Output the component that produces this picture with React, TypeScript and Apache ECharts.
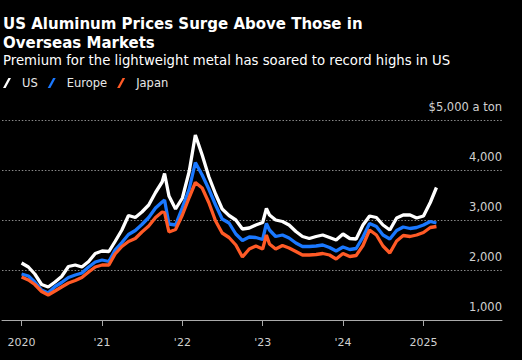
import React, { useEffect, useRef } from "react";
import * as echarts from "echarts";

const dates = [
  "2020-01-01","2020-02-01","2020-03-01","2020-04-01","2020-05-01","2020-06-01","2020-07-01","2020-08-01","2020-09-01","2020-10-01","2020-11-01","2020-12-01",
  "2021-01-01","2021-02-01","2021-03-01","2021-04-01","2021-05-01","2021-06-01","2021-07-01","2021-08-01","2021-09-01","2021-10-01","2021-10-12","2021-11-01","2021-12-01",
  "2022-01-01","2022-02-01","2022-03-01","2022-04-01","2022-05-01","2022-06-01","2022-07-01","2022-08-01","2022-09-01","2022-10-01","2022-11-01","2022-12-01",
  "2023-01-01","2023-01-18","2023-02-01","2023-03-01","2023-04-01","2023-05-01","2023-06-01","2023-07-01","2023-08-01","2023-09-01","2023-10-01","2023-11-01","2023-12-01",
  "2024-01-01","2024-02-01","2024-03-01","2024-04-01","2024-05-01","2024-06-01","2024-07-01","2024-08-01","2024-09-01","2024-10-01","2024-11-01","2024-12-01",
  "2025-01-01","2025-02-01","2025-03-01",
];

const usValues = [
  2140, 2060, 1920, 1710, 1660, 1760, 1870, 2070, 2100, 2060, 2170, 2330,
  2380, 2370, 2570, 2800, 3090, 3050, 3160, 3300, 3550, 3760, 3930, 3480, 3220,
  3440, 3970, 4700, 4300, 3870, 3520, 3220, 3090, 3000, 2820, 2840, 2900,
  2950, 3230, 3100, 3000, 2970, 2900, 2770, 2670, 2630, 2670, 2700, 2650, 2600,
  2720, 2630, 2620, 2900, 3080, 3050, 2900, 2800, 3040, 3100, 3100, 3040,
  3080, 3350, 3650,
];

const europeValues = [
  1920, 1880, 1760, 1600, 1540, 1670, 1750, 1850, 1900, 1940, 2060, 2160,
  2200, 2170, 2400, 2550, 2710, 2790, 2910, 3050, 3240, 3360, 3400, 2920, 2900,
  3250, 3620, 4150, 3900, 3620, 3300, 3020, 2940, 2720, 2590, 2660, 2650,
  2610, 2930, 2800, 2670, 2700, 2640, 2540, 2470, 2470, 2480, 2500, 2450, 2380,
  2460, 2410, 2430, 2660, 2930, 2870, 2700, 2620, 2790, 2860, 2830, 2850,
  2900, 2970, 2940,
];

const japanValues = [
  1860, 1800, 1710, 1570, 1500, 1580, 1660, 1740, 1790, 1850, 1960, 2060,
  2100, 2100, 2320, 2470, 2570, 2630, 2760, 2880, 3050, 3160, 3150, 2760, 2810,
  3100, 3450, 3750, 3640, 3350, 2980, 2740, 2650, 2500, 2260, 2420, 2480,
  2420, 2700, 2520, 2420, 2490, 2440, 2370, 2300, 2300, 2310, 2330, 2300, 2220,
  2330, 2270, 2290, 2490, 2800, 2700, 2480, 2340, 2580, 2690, 2670, 2700,
  2750, 2850, 2870,
];

const seriesNames = ["US", "Europe", "Japan"];
const seriesColors = ["#ffffff", "#1a78ff", "#ff5a26"];

const xTickYears = [2020, 2021, 2022, 2023, 2024, 2025];
const xTickLabels = ["2020", "'21", "'22", "'23", "'24", "2025"];
const xRange = ["2019-10-04", "2025-12-24"];

const yTicks = [1000, 2000, 3000, 4000, 5000];
const yTickLabels = ["1,000", "2,000", "3,000", "4,000", "$5,000 a ton"];

const titleText = "US Aluminum Prices Surge Above Those in\nOverseas Markets";
const subtitleText = "Premium for the lightweight metal has soared to record highs in US";

const FONT = "'DejaVu Sans', Verdana, sans-serif";

function toTime(s: string): number {
  const [y, m, d] = s.split("-").map(Number);
  return new Date(y, m - 1, d).getTime();
}

export default function App() {
  const ref = useRef<HTMLDivElement>(null);

  useEffect(() => {
    document.body.style.margin = "0";
    document.body.style.background = "#000";
    if (!ref.current) return;
    const chart = echarts.init(ref.current, null, { renderer: "svg" });

    const allValues = [usValues, europeValues, japanValues];
    const tickTimes = xTickYears.map((y) => new Date(y, 0, 1).getTime());

    const option: any = {
      animation: false,
      backgroundColor: "#000000",
      graphic: [
        {
          type: "text",
          x: 3,
          y: 14,
          silent: true,
          style: {
            text: titleText,
            font: `bold 15px ${FONT}`,
            fill: "#ffffff",
            lineHeight: 19.3,
            verticalAlign: "top",
          },
        },
        {
          type: "text",
          x: 3,
          y: 60.5,
          silent: true,
          style: {
            text: subtitleText,
            font: `13.25px ${FONT}`,
            fill: "#ffffff",
            verticalAlign: "middle",
          },
        },
      ],
      legend: {
        data: seriesNames,
        left: 3,
        top: 77,
        padding: 0,
        itemWidth: 8,
        itemHeight: 10,
        itemGap: 10,
        icon: "path://M0,10 L5.4,0 L8,0 L2.6,10 Z",
        selectedMode: false,
        textStyle: {
          color: "#e8e8e8",
          fontSize: 11.5,
          fontFamily: FONT,
          padding: [0, 0, 0, 6],
        },
      },
      grid: {
        left: 2,
        right: 20,
        top: 120,
        bottom: 40,
        containLabel: false,
      },
      xAxis: {
        type: "value",
        min: toTime(xRange[0]),
        max: toTime(xRange[1]),
        axisLine: { show: true, lineStyle: { color: "#aaaaaa", width: 1 } },
        axisTick: {
          show: true,
          length: 6,
          customValues: tickTimes,
          lineStyle: { color: "#aaaaaa" },
        },
        splitLine: { show: false },
        axisLabel: {
          customValues: tickTimes,
          color: "#d0d0d0",
          fontSize: 11,
          fontFamily: FONT,
          margin: 16,
          lineHeight: 12,
          formatter: (v: number) => {
            const y = new Date(v).getFullYear();
            const i = xTickYears.indexOf(y);
            return i >= 0 ? xTickLabels[i] : "";
          },
        },
      },
      yAxis: {
        type: "value",
        position: "right",
        min: 1000,
        max: 5000,
        interval: 1000,
        axisLine: { show: false },
        axisTick: { show: false },
        splitLine: {
          show: true,
          lineStyle: { color: "#8a8a8a", width: 1, type: [1.5, 1.8] },
        },
        axisLabel: {
          inside: true,
          margin: 0,
          color: "#d0d0d0",
          fontSize: 11.5,
          fontFamily: FONT,
          verticalAlign: "bottom",
          lineHeight: 12,
          padding: [0, 0, 7, 0],
          formatter: (v: number) => {
            const i = yTicks.indexOf(v);
            return i >= 0 ? yTickLabels[i] : "";
          },
        },
      },
      series: seriesNames.map((name, k) => ({
        name,
        type: "line",
        data: dates.map((d, i) => [toTime(d), allValues[k][i]]),
        showSymbol: false,
        symbol: "none",
        silent: true,
        lineStyle: { color: seriesColors[k], width: 3.3 },
        itemStyle: { color: seriesColors[k] },
        emphasis: { disabled: true },
      })),
    };

    chart.setOption(option);
    return () => {
      chart.dispose();
    };
  }, []);

  return (
    <div
      ref={ref}
      style={{
        position: "fixed",
        left: 0,
        top: 0,
        width: 522,
        height: 360,
        background: "#000",
      }}
    />
  );
}
